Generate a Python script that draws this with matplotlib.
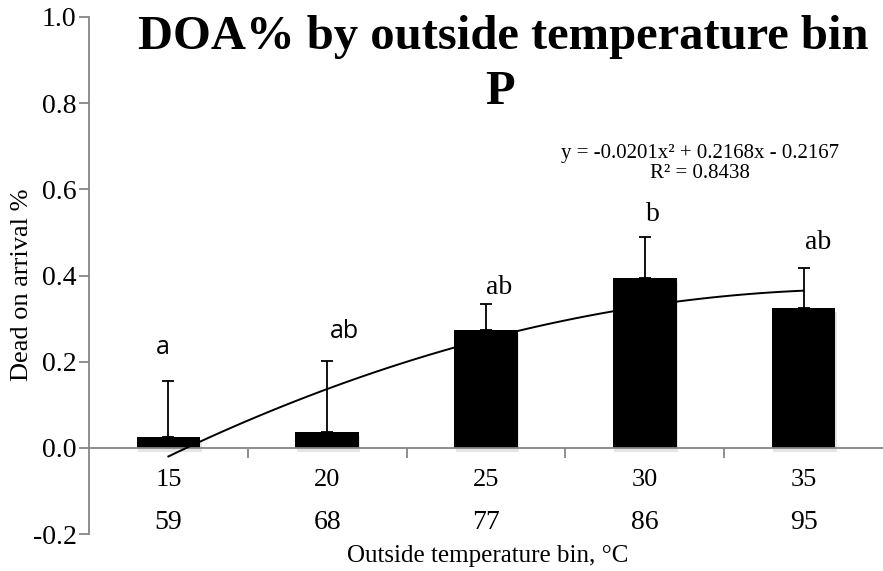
import numpy as np
import matplotlib
matplotlib.use('Agg')
import matplotlib.pyplot as plt
import matplotlib.patheffects as pe

# DOA% per outside temperature bin
temp_c = ['15', '20', '25', '30', '35']
temp_f = ['59', '68', '77', '86', '95']
doa = [0.024, 0.037, 0.273, 0.395, 0.325]
doa_err = [0.130, 0.165, 0.060, 0.095, 0.093]
letters = ['a', 'ab', 'ab', 'b', 'ab']
letter_y = [0.232, 0.270, 0.371, 0.541, 0.476]
letter_dx = [-0.035, 0.11, 0.08, 0.05, 0.09]

# polynomial trend fitted on bin index (1..5)
coef = [-0.0201, 0.2168, -0.2167]
r2 = 0.8438

serif = 'Liberation Serif'
gray = '#868686'

def main():
    fig = plt.figure(figsize=(8.83, 5.71), dpi=100)
    ax = fig.add_axes([89 / 883, 1 - 534 / 571, 794 / 883, 517 / 571])

    x = np.arange(1, len(doa) + 1)
    shadow = [pe.SimplePatchShadow(offset=(1, -3), shadow_rgbFace='#999999', alpha=0.25),
              pe.Normal()]
    ax.bar(x, doa, width=0.4, color='black', zorder=2, path_effects=shadow)
    ax.errorbar(x, doa, yerr=[np.zeros(len(doa)), doa_err], fmt='none',
                ecolor='black', elinewidth=1.3, capsize=4, capthick=1.3, zorder=3)

    # trendline
    xs = np.linspace(1, 5, 100)
    ax.plot(xs, np.polyval(coef, xs), color='black', lw=1.4, zorder=4)
    eq = 'y = %.4fx² + %.4fx - %.4f\nR² = %.4f' % (coef[0], coef[1], -coef[2], r2)
    ax.text(4.35, 0.66, eq, ha='center', va='center', fontsize=15,
            family=serif, linespacing=1.1)

    # significance letters
    for i, lt in enumerate(letters):
        fam = 'Open Sans' if i < 2 else serif
        ax.text(x[i] + letter_dx[i], letter_y[i], lt, ha='center', va='center',
                fontsize=18 if i < 2 else 20, family=fam)

    # category rows (degC, degF)
    for i in range(len(x)):
        ax.text(x[i], -0.075, temp_c[i], ha='center', va='center',
                fontsize=19, family=serif)
        ax.text(x[i], -0.173, temp_f[i], ha='center', va='center',
                fontsize=20, family=serif)

    ax.set_xlim(0.5, 5.5)
    ax.set_ylim(-0.2, 1.0)
    yt = np.arange(-0.2, 1.01, 0.2)
    ax.set_yticks(yt)
    ax.set_yticklabels(['%.1f' % v for v in yt], family=serif, fontsize=20)
    ax.set_xticks(np.arange(1.5, 5.5, 1))
    ax.set_xticklabels([])

    for s in ['top', 'right']:
        ax.spines[s].set_visible(False)
    ax.spines['bottom'].set_position(('data', 0))
    for s in ['left', 'bottom']:
        ax.spines[s].set_color(gray)
        ax.spines[s].set_linewidth(1.3)
    ax.tick_params(axis='both', colors=gray, length=7, width=1.3, labelcolor='black')
    ax.tick_params(axis='y', pad=2)

    fig.text(22 / 883, 1 - 285 / 571, 'Dead on arrival %', rotation=90,
             ha='center', va='center', fontsize=19, family=serif)
    fig.text(488 / 883, 1 - 556 / 571, 'Outside temperature bin, °C',
             ha='center', va='center', fontsize=18, family=serif)

    fig.text(503 / 883, 1 - 37 / 571, 'DOA% by outside temperature bin',
             ha='center', va='center', fontsize=35, weight='bold', family=serif)
    fig.text(500 / 883, 1 - 92 / 571, 'P',
             ha='center', va='center', fontsize=35, weight='bold', family=serif)

    fig.savefig('out.png', dpi=100)

if __name__ == '__main__':
    main()
